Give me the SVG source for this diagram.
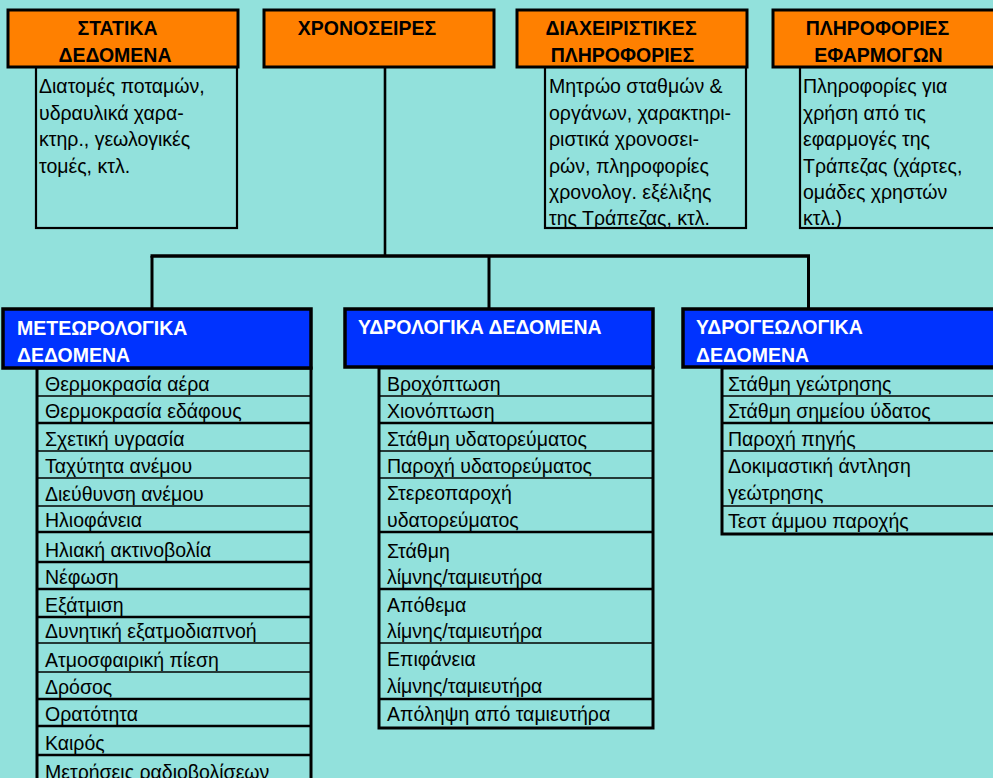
<svg xmlns="http://www.w3.org/2000/svg" width="993" height="778" viewBox="0 0 993 778">
<style>
.bg{fill:#92E1DC}
.ob{fill:#FF8000;stroke:#000;stroke-width:3}
.bb{fill:#0033FF;stroke:#000;stroke-width:3.5}
.ib{fill:none;stroke:#000;stroke-width:2.2}
.lb{fill:none;stroke:#000;stroke-width:3}
.thin{stroke:#000;stroke-width:1.3}
.thick{stroke:#000;stroke-width:2.6}
.ot{font-family:"Liberation Sans",Arial,sans-serif;font-weight:bold;font-size:19.5px;fill:#000;text-anchor:middle}
.wt{font-family:"Liberation Sans",Arial,sans-serif;font-weight:bold;font-size:19.5px;fill:#fff}
.t{font-family:"Liberation Sans",Arial,sans-serif;font-size:19.5px;fill:#000}
.c{fill:none;stroke:#000}
</style>
<rect class="bg" x="0" y="0" width="993" height="778"/>

<g id="connectors">
<line class="c" x1="385" y1="67" x2="385" y2="256" stroke-width="2.6"/>
<line class="c" x1="150.5" y1="256" x2="810" y2="256" stroke-width="3.5"/>
<line class="c" x1="152" y1="256" x2="152" y2="309" stroke-width="3"/>
<line class="c" x1="489" y1="256" x2="489" y2="309" stroke-width="3"/>
<line class="c" x1="808.5" y1="256" x2="808.5" y2="309" stroke-width="3"/>
</g>

<g id="statika">
<rect class="ib" x="36" y="67" width="201" height="161"/>
<rect class="ob" x="8" y="10" width="230" height="57"/>
<text class="ot" x="117.5" y="35">ΣΤΑΤΙΚΑ</text>
<text class="ot" x="115" y="62">ΔΕΔΟΜΕΝΑ</text>
<text class="t" x="39" y="93">Διατομές ποταμών,</text>
<text class="t" x="39" y="120">υδραυλικά χαρα-</text>
<text class="t" x="39" y="146">κτηρ., γεωλογικές</text>
<text class="t" x="39" y="173">τομές, κτλ.</text>
</g>

<g id="xronoseires">
<rect class="ob" x="264" y="10" width="230" height="57"/>
<text class="ot" x="367" y="35">ΧΡΟΝΟΣΕΙΡΕΣ</text>
</g>

<g id="diaxeiristikes">
<rect class="ib" x="545" y="67" width="201" height="161"/>
<rect class="ob" x="517" y="10" width="230" height="57"/>
<text class="ot" x="621" y="35">ΔΙΑΧΕΙΡΙΣΤΙΚΕΣ</text>
<text class="ot" x="622.5" y="62">ΠΛΗΡΟΦΟΡΙΕΣ</text>
<text class="t" x="549" y="93">Μητρώο σταθμών &amp;</text>
<text class="t" x="549" y="120">οργάνων, χαρακτηρι-</text>
<text class="t" x="549" y="146">ριστικά χρονοσει-</text>
<text class="t" x="549" y="173">ρών, πληροφορίες</text>
<text class="t" x="549" y="199">χρονολογ. εξέλιξης</text>
<text class="t" x="549" y="225">της Τράπεζας, κτλ.</text>
</g>

<g id="efarmogon">
<rect class="ib" x="800" y="67" width="201" height="161"/>
<rect class="ob" x="773" y="10" width="230" height="57"/>
<text class="ot" x="877.5" y="35">ΠΛΗΡΟΦΟΡΙΕΣ</text>
<text class="ot" x="878.5" y="62">ΕΦΑΡΜΟΓΩΝ</text>
<text class="t" x="803" y="93">Πληροφορίες για</text>
<text class="t" x="803" y="120">χρήση από τις</text>
<text class="t" x="803" y="146">εφαρμογές της</text>
<text class="t" x="803" y="173">Τράπεζας (χάρτες,</text>
<text class="t" x="803" y="199">ομάδες χρηστών</text>
<text class="t" x="803" y="225">κτλ.)</text>
</g>

<g id="meteorologika">
<rect class="lb" x="37" y="368" width="274" height="420"/>
<line class="thin" x1="37" y1="396" x2="311" y2="396"/>
<line class="thick" x1="37" y1="423" x2="311" y2="423"/>
<line class="thin" x1="37" y1="451" x2="311" y2="451"/>
<line class="thin" x1="37" y1="478" x2="311" y2="478"/>
<line class="thin" x1="37" y1="506" x2="311" y2="506"/>
<line class="thick" x1="37" y1="532" x2="311" y2="532"/>
<line class="thick" x1="37" y1="562" x2="311" y2="562"/>
<line class="thick" x1="37" y1="589" x2="311" y2="589"/>
<line class="thick" x1="37" y1="617" x2="311" y2="617"/>
<line class="thin" x1="37" y1="643" x2="311" y2="643"/>
<line class="thin" x1="37" y1="672" x2="311" y2="672"/>
<line class="thick" x1="37" y1="699" x2="311" y2="699"/>
<line class="thick" x1="37" y1="726" x2="311" y2="726"/>
<line class="thick" x1="37" y1="755" x2="311" y2="755"/>
<rect class="bb" x="3" y="309" width="308" height="59"/>
<text class="wt" x="17" y="335">ΜΕΤΕΩΡΟΛΟΓΙΚΑ</text>
<text class="wt" x="17" y="362">ΔΕΔΟΜΕΝΑ</text>
<text class="t" x="45" y="391">Θερμοκρασία αέρα</text>
<text class="t" x="45" y="418">Θερμοκρασία εδάφους</text>
<text class="t" x="45" y="446">Σχετική υγρασία</text>
<text class="t" x="45" y="473">Ταχύτητα ανέμου</text>
<text class="t" x="45" y="501">Διεύθυνση ανέμου</text>
<text class="t" x="45" y="527">Ηλιοφάνεια</text>
<text class="t" x="45" y="557">Ηλιακή ακτινοβολία</text>
<text class="t" x="45" y="584">Νέφωση</text>
<text class="t" x="45" y="612">Εξάτμιση</text>
<text class="t" x="45" y="638">Δυνητική εξατμοδιαπνοή</text>
<text class="t" x="45" y="667">Ατμοσφαιρική πίεση</text>
<text class="t" x="45" y="694">Δρόσος</text>
<text class="t" x="45" y="721">Ορατότητα</text>
<text class="t" x="45" y="750">Καιρός</text>
<text class="t" x="45" y="779">Μετρήσεις ραδιοβολίσεων</text>
</g>

<g id="ydrologika">
<rect class="lb" x="379" y="368" width="274" height="360" stroke-width="3.5"/>
<line class="thin" x1="379" y1="396" x2="653" y2="396"/>
<line class="thick" x1="379" y1="423" x2="653" y2="423"/>
<line class="thin" x1="379" y1="451" x2="653" y2="451"/>
<line class="thin" x1="379" y1="478" x2="653" y2="478"/>
<line class="thick" x1="379" y1="532" x2="653" y2="532"/>
<line class="thick" x1="379" y1="589" x2="653" y2="589"/>
<line class="thin" x1="379" y1="643" x2="653" y2="643"/>
<line class="thick" x1="379" y1="699" x2="653" y2="699"/>
<rect class="bb" x="345" y="309" width="308" height="58"/>
<text class="wt" x="358" y="334">ΥΔΡΟΛΟΓΙΚΑ ΔΕΔΟΜΕΝΑ</text>
<text class="t" x="387" y="391">Βροχόπτωση</text>
<text class="t" x="387" y="418">Χιονόπτωση</text>
<text class="t" x="387" y="446">Στάθμη υδατορεύματος</text>
<text class="t" x="387" y="473">Παροχή υδατορεύματος</text>
<text class="t" x="387" y="500">Στερεοπαροχή</text>
<text class="t" x="387" y="527">υδατορεύματος</text>
<text class="t" x="387" y="558">Στάθμη</text>
<text class="t" x="387" y="584">λίμνης/ταμιευτήρα</text>
<text class="t" x="387" y="612">Απόθεμα</text>
<text class="t" x="387" y="638">λίμνης/ταμιευτήρα</text>
<text class="t" x="387" y="666">Επιφάνεια</text>
<text class="t" x="387" y="693">λίμνης/ταμιευτήρα</text>
<text class="t" x="387" y="721">Απόληψη από ταμιευτήρα</text>
</g>

<g id="ydrogeologika">
<rect class="lb" x="722" y="368" width="290" height="166"/>
<line class="thin" x1="722" y1="396" x2="1012" y2="396"/>
<line class="thick" x1="722" y1="423" x2="1012" y2="423"/>
<line class="thin" x1="722" y1="451" x2="1012" y2="451"/>
<line class="thin" x1="722" y1="506" x2="1012" y2="506"/>
<rect class="bb" x="683" y="309" width="330" height="58"/>
<text class="wt" x="696" y="334">ΥΔΡΟΓΕΩΛΟΓΙΚΑ</text>
<text class="wt" x="696" y="362">ΔΕΔΟΜΕΝΑ</text>
<text class="t" x="728" y="391">Στάθμη γεώτρησης</text>
<text class="t" x="728" y="418">Στάθμη σημείου ύδατος</text>
<text class="t" x="728" y="446">Παροχή πηγής</text>
<text class="t" x="728" y="473">Δοκιμαστική άντληση</text>
<text class="t" x="728" y="500">γεώτρησης</text>
<text class="t" x="728" y="528">Τεστ άμμου παροχής</text>
</g>
</svg>
